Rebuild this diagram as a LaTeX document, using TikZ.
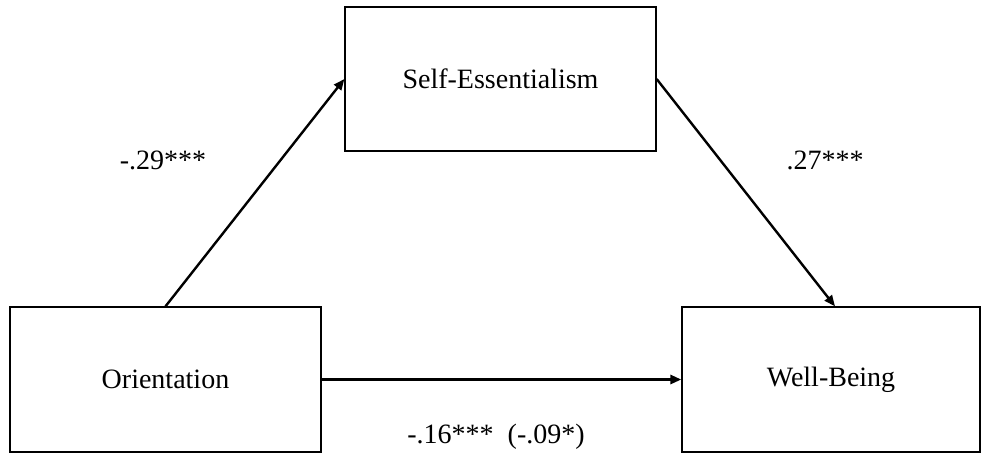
\documentclass[tikz,border=0pt]{standalone}
\usepackage{fontspec}
\setmainfont{Liberation Serif}
\usetikzlibrary{arrows.meta, positioning}

\begin{document}
\begin{tikzpicture}[
    x=1pt, y=-1pt,
    varbox/.style = {rectangle, draw, line width=1.3pt, inner sep=0pt, font=\fontsize{28}{34}\selectfont},
    coeff/.style = {inner sep=0pt, font=\fontsize{28}{34}\selectfont},
    path/.style = {line width=2.4pt, -{Triangle[length=11pt, width=9pt]}}]

    \useasboundingbox (0,0) rectangle (981,453);

    \node[varbox, minimum width=311pt, minimum height=144pt] (S) at (500.5,79) {Self-Essentialism};
    \node[varbox, minimum width=311pt, minimum height=145pt] (O) at (165.5,379.5) {Orientation};
    \node[varbox, minimum width=298pt, minimum height=145pt] (W) at (831,379.5) {Well-Being};

    \node[coeff] (a) at (163,160) {-.29***};
    \node[coeff] (b) at (825,160) {.27***};
    \node[coeff] (c) at (496,437) {-.16***\ \ (-.09*)};

    \draw[path] (O.north) -- (S.west);
    \draw[path] (S.east) -- ([xshift=4pt]W.north);
    \draw[path, line width=3pt] (O.east) -- (W.west);
\end{tikzpicture}
\end{document}
